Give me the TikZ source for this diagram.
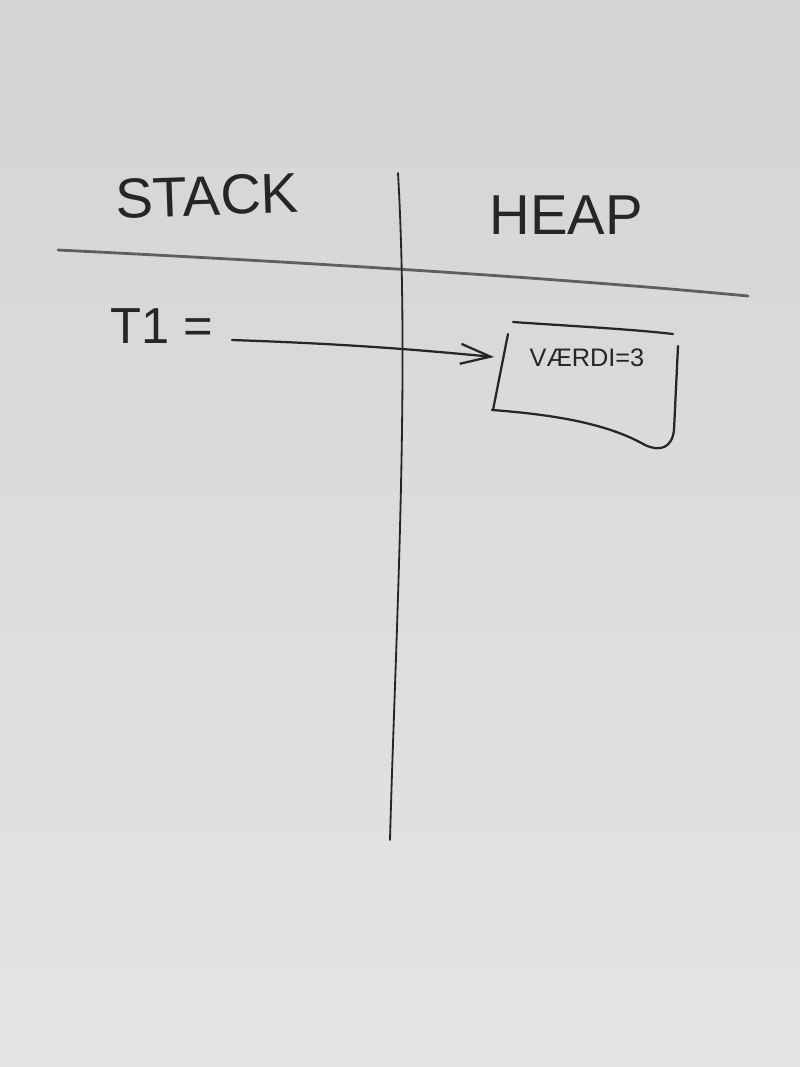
\documentclass[tikz,border=0pt]{standalone}
\usepackage{fontspec}
\setmainfont{Liberation Sans}
\usetikzlibrary{arrows.meta}
\definecolor{wbtop}{RGB}{212,212,210}
\definecolor{wbbot}{RGB}{228,228,226}
\definecolor{ink}{RGB}{38,38,38}
\definecolor{inkgray}{RGB}{95,95,95}
\tikzset{
  board/.style={top color=wbtop, bottom color=wbbot, draw=none},
  hand/.style={draw=ink, line width=1.6pt, line cap=round, line join=round},
  rule/.style={draw=inkgray, line width=2pt, line cap=round},
  title/.style={font=\fontsize{40}{48}\selectfont, text=ink, inner sep=0pt},
  label/.style={font=\fontsize{36}{42}\selectfont, text=ink, inner sep=0pt},
  small/.style={font=\fontsize{18}{22}\selectfont, text=ink, inner sep=0pt},
}
\begin{document}
\begin{tikzpicture}[x=0.025cm, y=-0.025cm]
  \shade[board] (0,0) rectangle (800,1067);
  \useasboundingbox (0,0) rectangle (800,1067);

  % headings
  \node[title, rotate=2] (stack) at (207,196) {STACK};
  \node[title] (heap) at (566,215) {HEAP};

  % dividing lines
  \draw[rule] (58,250) .. controls (300,262) and (560,278) .. (748,296);
  \draw[hand, line width=1.3pt] (398,173) .. controls (410,380) and (395,650) .. (390,840);

  % stack variable
  \node[label] (t1) at (162,326) {T1 =};
  \coordinate (arrowstart) at (232,340);
  \coordinate (heapin) at (494,357);
  \draw[hand, -{Straight Barb[length=0.75cm, width=0.5cm, line width=1.6pt]}] (arrowstart) .. controls (350,344) and (420,350) .. (heapin);

  % heap object
  \node[small] (val) at (587,358) {VÆRDI=3};
  \draw[hand] (513,322) .. controls (570,326) and (630,329) .. (673,334);
  \draw[hand] (508,334) -- (493,410);
  \draw[hand] (492,410) .. controls (560,415) and (610,425) .. (645,445)
     .. controls (660,452) and (672,448) .. (674,430)
     -- (678,346);
\end{tikzpicture}
\end{document}
